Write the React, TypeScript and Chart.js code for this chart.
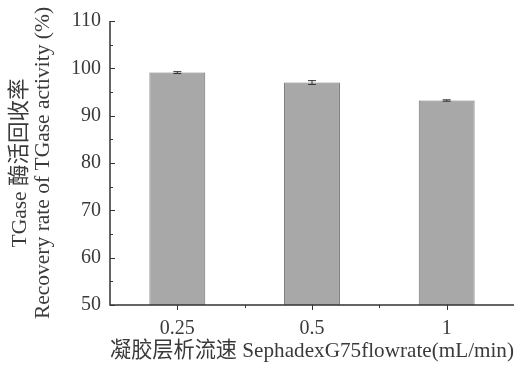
import React, { useEffect, useRef } from "react";
import { Chart, registerables } from "chart.js";

Chart.register(...registerables);

const categories = ["0.25", "0.5", "1"];
const recovery = [99.1, 97.0, 93.2];
const errors = [0.2, 0.4, 0.15];
const yTicks = [50, 60, 70, 80, 90, 100, 110];
const yTitle = ["TGase 酶活回收率", "Recovery rate of TGase activity (%)"];
const xTitle = "凝胶层析流速 SephadexG75flowrate(mL/min)";

const FONT = "'Liberation Serif', 'Noto Sans CJK SC', serif";
const TEXT = "#3a3a3a";
const AXIS = "#333333";

const axesPlugin = {
  id: "customAxes",
  afterDatasetsDraw(chart: any) {
    const ctx = chart.ctx;
    const x = chart.scales.x;
    const y = chart.scales.y;
    const area = chart.chartArea;
    ctx.save();
    // error bars
    const meta = chart.getDatasetMeta(0);
    ctx.strokeStyle = "#333";
    ctx.lineWidth = 1;
    meta.data.forEach((bar: any, i: number) => {
      const v = recovery[i];
      const e = errors[i];
      const yt = y.getPixelForValue(v + e);
      const yb = y.getPixelForValue(v - e);
      const cx = bar.x;
      ctx.beginPath();
      ctx.moveTo(cx, yt);
      ctx.lineTo(cx, yb);
      ctx.moveTo(cx - 4, yt);
      ctx.lineTo(cx + 4, yt);
      ctx.moveTo(cx - 4, yb);
      ctx.lineTo(cx + 4, yb);
      ctx.stroke();
    });
    // axis lines
    ctx.strokeStyle = AXIS;
    ctx.lineWidth = 1.5;
    ctx.beginPath();
    ctx.moveTo(area.left, area.top);
    ctx.lineTo(area.left, area.bottom);
    ctx.lineTo(area.right, area.bottom);
    ctx.stroke();
    // y ticks (inward)
    ctx.lineWidth = 1;
    for (let v = y.min; v <= y.max; v += 5) {
      const py = Math.round(y.getPixelForValue(v)) + 0.5;
      const len = v % 10 === 0 ? 5 : 3;
      ctx.beginPath();
      ctx.moveTo(area.left, py);
      ctx.lineTo(area.left + len, py);
      ctx.stroke();
    }
    // x ticks (outward)
    for (let i = 0; i < categories.length; i++) {
      const px = Math.round(x.getPixelForValue(i)) + 0.5;
      ctx.beginPath();
      ctx.moveTo(px, area.bottom);
      ctx.lineTo(px, area.bottom + 5);
      ctx.stroke();
      if (i < categories.length - 1) {
        const mx = Math.round(x.getPixelForValue(i + 0.5)) + 0.5;
        ctx.beginPath();
        ctx.moveTo(mx, area.bottom);
        ctx.lineTo(mx, area.bottom + 3);
        ctx.stroke();
      }
    }
    ctx.restore();
  },
};

export default function App() {
  const ref = useRef<HTMLCanvasElement | null>(null);
  useEffect(() => {
    if (!ref.current) return;
    const chart = new Chart(ref.current, {
      type: "bar",
      data: {
        labels: categories,
        datasets: [
          {
            data: recovery,
            backgroundColor: "#a8a8a8",
            borderColor: "#6f6f6f",
            borderWidth: 1,
            barPercentage: 0.415,
            categoryPercentage: 1,
          },
        ],
      },
      options: {
        responsive: false,
        animation: false,
        layout: { padding: { top: 20, right: 1, left: 9, bottom: 0 } },
        plugins: { legend: { display: false }, tooltip: { enabled: false } },
        scales: {
          x: {
            offset: true,
            grid: { display: false, drawTicks: false },
            border: { display: false },
            ticks: {
              color: TEXT,
              font: { family: FONT, size: 20 },
              padding: 12,
            },
            title: {
              display: true,
              text: xTitle,
              color: TEXT,
              font: { family: FONT, size: 21.5 },
              padding: { top: 0, bottom: 5 },
            },
            afterFit: (s: any) => {
              s.height = 64;
            },
          },
          y: {
            min: 50,
            max: 110,
            grid: { display: false, drawTicks: false },
            border: { display: false },
            afterBuildTicks: (s: any) => {
              s.ticks = yTicks.map((v) => ({ value: v }));
            },
            ticks: {
              color: TEXT,
              font: { family: FONT, size: 20 },
              padding: 9,
            },
            title: {
              display: true,
              text: yTitle,
              color: TEXT,
              font: { family: FONT, size: 21.5, lineHeight: 1.05 },
              padding: { top: 0, bottom: 0 },
            },
            afterFit: (s: any) => {
              s.width = 101;
            },
          },
        },
      },
      plugins: [axesPlugin],
    });
    return () => chart.destroy();
  }, []);
  return (
    <div style={{ position: "fixed", left: 0, top: 0, width: 515, height: 369, background: "#fff" }}>
      <canvas ref={ref} width={515} height={369} style={{ display: "block" }} />
    </div>
  );
}
